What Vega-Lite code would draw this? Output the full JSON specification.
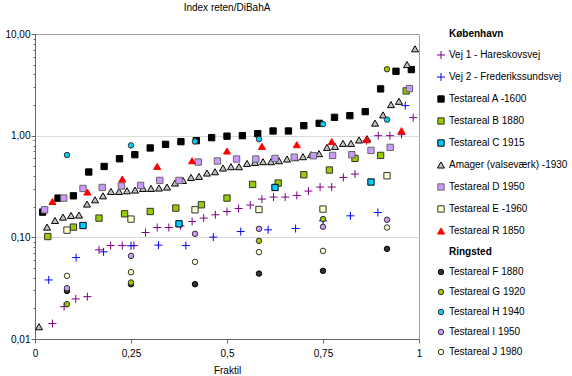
{
"$schema": "https://vega.github.io/schema/vega-lite/v6.json",
"width": 384, "height": 305,
"autosize": "none",
"padding": {"left": 35, "top": 34, "right": 153, "bottom": 37},
"title": {"text": "Index reten/DiBahA", "fontSize": 10, "fontWeight": "normal", "font": "Liberation Sans", "anchor": "middle", "baseline": "alphabetic", "offset": 15, "dy": 7, "color": "#000000"},
"config": {"view": {"stroke": "#a0a0a0"}, "font": "Liberation Sans"},
"datasets": {"pts": [
{"s":"Vej 1 - Hareskovsvej","x":0.0455,"y":0.0142},{"s":"Vej 1 - Hareskovsvej","x":0.0758,"y":0.0208},{"s":"Vej 1 - Hareskovsvej","x":0.1061,"y":0.0248},{"s":"Vej 1 - Hareskovsvej","x":0.1364,"y":0.0261},{"s":"Vej 1 - Hareskovsvej","x":0.1667,"y":0.0753},{"s":"Vej 1 - Hareskovsvej","x":0.197,"y":0.083},{"s":"Vej 1 - Hareskovsvej","x":0.2273,"y":0.083},{"s":"Vej 1 - Hareskovsvej","x":0.2576,"y":0.083},{"s":"Vej 1 - Hareskovsvej","x":0.2879,"y":0.1115},{"s":"Vej 1 - Hareskovsvej","x":0.3182,"y":0.1249},{"s":"Vej 1 - Hareskovsvej","x":0.3485,"y":0.1249},{"s":"Vej 1 - Hareskovsvej","x":0.3788,"y":0.1298},{"s":"Vej 1 - Hareskovsvej","x":0.4091,"y":0.1431},{"s":"Vej 1 - Hareskovsvej","x":0.4394,"y":0.1546},{"s":"Vej 1 - Hareskovsvej","x":0.4697,"y":0.1666},{"s":"Vej 1 - Hareskovsvej","x":0.5,"y":0.1796},{"s":"Vej 1 - Hareskovsvej","x":0.5303,"y":0.1922},{"s":"Vej 1 - Hareskovsvej","x":0.5606,"y":0.2076},{"s":"Vej 1 - Hareskovsvej","x":0.5909,"y":0.2378},{"s":"Vej 1 - Hareskovsvej","x":0.6212,"y":0.2489},{"s":"Vej 1 - Hareskovsvej","x":0.6515,"y":0.2489},{"s":"Vej 1 - Hareskovsvej","x":0.6818,"y":0.2582},{"s":"Vej 1 - Hareskovsvej","x":0.7121,"y":0.2851},{"s":"Vej 1 - Hareskovsvej","x":0.7424,"y":0.3123},{"s":"Vej 1 - Hareskovsvej","x":0.7727,"y":0.3123},{"s":"Vej 1 - Hareskovsvej","x":0.803,"y":0.3884},{"s":"Vej 1 - Hareskovsvej","x":0.8333,"y":0.4194},{"s":"Vej 1 - Hareskovsvej","x":0.8636,"y":0.893},{"s":"Vej 1 - Hareskovsvej","x":0.8939,"y":1.0},{"s":"Vej 1 - Hareskovsvej","x":0.9242,"y":1.0},{"s":"Vej 1 - Hareskovsvej","x":0.9545,"y":1.023},{"s":"Vej 1 - Hareskovsvej","x":0.9848,"y":1.504},
{"s":"Vej 2 - Frederikssundsvej","x":0.0357,"y":0.0381},{"s":"Vej 2 - Frederikssundsvej","x":0.1071,"y":0.0632},{"s":"Vej 2 - Frederikssundsvej","x":0.1786,"y":0.072},{"s":"Vej 2 - Frederikssundsvej","x":0.25,"y":0.0825},{"s":"Vej 2 - Frederikssundsvej","x":0.3214,"y":0.0838},{"s":"Vej 2 - Frederikssundsvej","x":0.3929,"y":0.083},{"s":"Vej 2 - Frederikssundsvej","x":0.4643,"y":0.1005},{"s":"Vej 2 - Frederikssundsvej","x":0.5357,"y":0.114},{"s":"Vej 2 - Frederikssundsvej","x":0.6071,"y":0.1185},{"s":"Vej 2 - Frederikssundsvej","x":0.6786,"y":0.1221},{"s":"Vej 2 - Frederikssundsvej","x":0.75,"y":0.1454},{"s":"Vej 2 - Frederikssundsvej","x":0.8214,"y":0.1628},{"s":"Vej 2 - Frederikssundsvej","x":0.8929,"y":0.1755},{"s":"Vej 2 - Frederikssundsvej","x":0.9643,"y":1.975},
{"s":"Testareal A -1600","x":0.02,"y":0.177},{"s":"Testareal A -1600","x":0.06,"y":0.243},{"s":"Testareal A -1600","x":0.1,"y":0.256},{"s":"Testareal A -1600","x":0.14,"y":0.439},{"s":"Testareal A -1600","x":0.18,"y":0.498},{"s":"Testareal A -1600","x":0.22,"y":0.593},{"s":"Testareal A -1600","x":0.26,"y":0.65},{"s":"Testareal A -1600","x":0.3,"y":0.757},{"s":"Testareal A -1600","x":0.34,"y":0.821},{"s":"Testareal A -1600","x":0.38,"y":0.873},{"s":"Testareal A -1600","x":0.42,"y":0.893},{"s":"Testareal A -1600","x":0.46,"y":0.956},{"s":"Testareal A -1600","x":0.5,"y":0.989},{"s":"Testareal A -1600","x":0.54,"y":1.0},{"s":"Testareal A -1600","x":0.58,"y":1.046},{"s":"Testareal A -1600","x":0.62,"y":1.112},{"s":"Testareal A -1600","x":0.66,"y":1.112},{"s":"Testareal A -1600","x":0.7,"y":1.254},{"s":"Testareal A -1600","x":0.74,"y":1.322},{"s":"Testareal A -1600","x":0.78,"y":1.514},{"s":"Testareal A -1600","x":0.82,"y":1.574},{"s":"Testareal A -1600","x":0.86,"y":1.724},{"s":"Testareal A -1600","x":0.9,"y":2.885},{"s":"Testareal A -1600","x":0.94,"y":4.3},{"s":"Testareal A -1600","x":0.98,"y":4.47},
{"s":"Testareal B 1880","x":0.0333,"y":0.1018},{"s":"Testareal B 1880","x":0.1,"y":0.126},{"s":"Testareal B 1880","x":0.1667,"y":0.1546},{"s":"Testareal B 1880","x":0.2333,"y":0.1704},{"s":"Testareal B 1880","x":0.3,"y":0.1796},{"s":"Testareal B 1880","x":0.3667,"y":0.194},{"s":"Testareal B 1880","x":0.4333,"y":0.209},{"s":"Testareal B 1880","x":0.5,"y":0.2433},{"s":"Testareal B 1880","x":0.5667,"y":0.3314},{"s":"Testareal B 1880","x":0.6333,"y":0.342},{"s":"Testareal B 1880","x":0.7,"y":0.4127},{"s":"Testareal B 1880","x":0.7667,"y":0.4592},{"s":"Testareal B 1880","x":0.8333,"y":0.5975},{"s":"Testareal B 1880","x":0.9,"y":0.6396},{"s":"Testareal B 1880","x":0.9667,"y":2.756},
{"s":"Testareal C 1915","x":0.125,"y":0.1307},{"s":"Testareal C 1915","x":0.375,"y":0.1358},{"s":"Testareal C 1915","x":0.625,"y":0.3095},{"s":"Testareal C 1915","x":0.875,"y":0.3499},
{"s":"Amager (valseværk) -1930","x":0.0104,"y":0.0132},{"s":"Amager (valseværk) -1930","x":0.0313,"y":0.126},{"s":"Amager (valseværk) -1930","x":0.0521,"y":0.1464},{"s":"Amager (valseværk) -1930","x":0.0729,"y":0.158},{"s":"Amager (valseværk) -1930","x":0.0938,"y":0.164},{"s":"Amager (valseværk) -1930","x":0.1146,"y":0.1655},{"s":"Amager (valseværk) -1930","x":0.1354,"y":0.2124},{"s":"Amager (valseværk) -1930","x":0.1563,"y":0.234},{"s":"Amager (valseværk) -1930","x":0.1771,"y":0.256},{"s":"Amager (valseværk) -1930","x":0.1979,"y":0.2827},{"s":"Amager (valseværk) -1930","x":0.2188,"y":0.2827},{"s":"Amager (valseværk) -1930","x":0.2396,"y":0.287},{"s":"Amager (valseværk) -1930","x":0.2604,"y":0.2917},{"s":"Amager (valseværk) -1930","x":0.2813,"y":0.3027},{"s":"Amager (valseværk) -1930","x":0.3021,"y":0.3027},{"s":"Amager (valseværk) -1930","x":0.3229,"y":0.3054},{"s":"Amager (valseværk) -1930","x":0.3438,"y":0.3123},{"s":"Amager (valseværk) -1930","x":0.3646,"y":0.342},{"s":"Amager (valseværk) -1930","x":0.3854,"y":0.3628},{"s":"Amager (valseværk) -1930","x":0.4063,"y":0.3884},{"s":"Amager (valseværk) -1930","x":0.4271,"y":0.3972},{"s":"Amager (valseværk) -1930","x":0.4479,"y":0.429},{"s":"Amager (valseværk) -1930","x":0.4688,"y":0.4418},{"s":"Amager (valseværk) -1930","x":0.4896,"y":0.4806},{"s":"Amager (valseværk) -1930","x":0.5104,"y":0.495},{"s":"Amager (valseværk) -1930","x":0.5313,"y":0.495},{"s":"Amager (valseværk) -1930","x":0.5521,"y":0.5334},{"s":"Amager (valseværk) -1930","x":0.5729,"y":0.5457},{"s":"Amager (valseværk) -1930","x":0.5938,"y":0.5544},{"s":"Amager (valseværk) -1930","x":0.6146,"y":0.5544},{"s":"Amager (valseværk) -1930","x":0.6354,"y":0.567},{"s":"Amager (valseværk) -1930","x":0.6563,"y":0.5893},{"s":"Amager (valseværk) -1930","x":0.6771,"y":0.607},{"s":"Amager (valseværk) -1930","x":0.6979,"y":0.621},{"s":"Amager (valseværk) -1930","x":0.7188,"y":0.65},{"s":"Amager (valseværk) -1930","x":0.7396,"y":0.665},{"s":"Amager (valseværk) -1930","x":0.7604,"y":0.767},{"s":"Amager (valseværk) -1930","x":0.7813,"y":0.7846},{"s":"Amager (valseværk) -1930","x":0.8021,"y":0.8396},{"s":"Amager (valseværk) -1930","x":0.8229,"y":0.8396},{"s":"Amager (valseværk) -1930","x":0.8438,"y":0.907},{"s":"Amager (valseværk) -1930","x":0.8646,"y":0.934},{"s":"Amager (valseværk) -1930","x":0.8854,"y":1.328},{"s":"Amager (valseværk) -1930","x":0.9063,"y":1.6},{"s":"Amager (valseværk) -1930","x":0.9271,"y":2.02},{"s":"Amager (valseværk) -1930","x":0.9479,"y":2.178},{"s":"Amager (valseværk) -1930","x":0.9688,"y":5.006},{"s":"Amager (valseværk) -1930","x":0.9896,"y":7.15},
{"s":"Testareal D 1950","x":0.025,"y":0.1866},{"s":"Testareal D 1950","x":0.075,"y":0.2433},{"s":"Testareal D 1950","x":0.125,"y":0.3027},{"s":"Testareal D 1950","x":0.175,"y":0.3095},{"s":"Testareal D 1950","x":0.225,"y":0.3195},{"s":"Testareal D 1950","x":0.275,"y":0.3239},{"s":"Testareal D 1950","x":0.325,"y":0.3628},{"s":"Testareal D 1950","x":0.375,"y":0.3628},{"s":"Testareal D 1950","x":0.425,"y":0.5507},{"s":"Testareal D 1950","x":0.475,"y":0.5633},{"s":"Testareal D 1950","x":0.525,"y":0.5893},{"s":"Testareal D 1950","x":0.575,"y":0.5893},{"s":"Testareal D 1950","x":0.625,"y":0.5975},{"s":"Testareal D 1950","x":0.675,"y":0.614},{"s":"Testareal D 1950","x":0.725,"y":0.6353},{"s":"Testareal D 1950","x":0.775,"y":0.6396},{"s":"Testareal D 1950","x":0.825,"y":0.65},{"s":"Testareal D 1950","x":0.875,"y":0.7163},{"s":"Testareal D 1950","x":0.925,"y":0.767},{"s":"Testareal D 1950","x":0.975,"y":2.904},
{"s":"Testareal E -1960","x":0.0833,"y":0.1177},{"s":"Testareal E -1960","x":0.25,"y":0.1511},{"s":"Testareal E -1960","x":0.4167,"y":0.1866},{"s":"Testareal E -1960","x":0.5833,"y":0.1878},{"s":"Testareal E -1960","x":0.75,"y":0.1896},{"s":"Testareal E -1960","x":0.9167,"y":0.4036},
{"s":"Testareal R 1850","x":0.0455,"y":0.2253},{"s":"Testareal R 1850","x":0.1364,"y":0.2788},{"s":"Testareal R 1850","x":0.2273,"y":0.3745},{"s":"Testareal R 1850","x":0.3182,"y":0.4983},{"s":"Testareal R 1850","x":0.4091,"y":0.567},{"s":"Testareal R 1850","x":0.5,"y":0.7066},{"s":"Testareal R 1850","x":0.5909,"y":0.7846},{"s":"Testareal R 1850","x":0.6818,"y":0.8153},{"s":"Testareal R 1850","x":0.7727,"y":0.873},{"s":"Testareal R 1850","x":0.8636,"y":0.9133},{"s":"Testareal R 1850","x":0.9545,"y":1.12},
{"s":"Testareal F 1880","x":0.0833,"y":0.0297},{"s":"Testareal F 1880","x":0.25,"y":0.0346},{"s":"Testareal F 1880","x":0.4167,"y":0.0346},{"s":"Testareal F 1880","x":0.5833,"y":0.044},{"s":"Testareal F 1880","x":0.75,"y":0.0468},{"s":"Testareal F 1880","x":0.9167,"y":0.077},
{"s":"Testareal G 1920","x":0.0833,"y":0.022},{"s":"Testareal G 1920","x":0.25,"y":0.0359},{"s":"Testareal G 1920","x":0.5833,"y":0.0924},{"s":"Testareal G 1920","x":0.75,"y":0.1511},{"s":"Testareal G 1920","x":0.9167,"y":4.5},
{"s":"Testareal H 1940","x":0.0833,"y":0.6455},{"s":"Testareal H 1940","x":0.25,"y":0.8025},{"s":"Testareal H 1940","x":0.4167,"y":0.879},{"s":"Testareal H 1940","x":0.5833,"y":0.924},{"s":"Testareal H 1940","x":0.75,"y":1.298},{"s":"Testareal H 1940","x":0.9167,"y":1.437},
{"s":"Testareal I 1950","x":0.0833,"y":0.0316},{"s":"Testareal I 1950","x":0.25,"y":0.0657},{"s":"Testareal I 1950","x":0.4167,"y":0.1083},{"s":"Testareal I 1950","x":0.5833,"y":0.1213},{"s":"Testareal I 1950","x":0.75,"y":0.1269},{"s":"Testareal I 1950","x":0.9167,"y":0.1488},
{"s":"Testareal J 1980","x":0.0833,"y":0.0418},{"s":"Testareal J 1980","x":0.25,"y":0.0454},{"s":"Testareal J 1980","x":0.4167,"y":0.0574},{"s":"Testareal J 1980","x":0.5833,"y":0.0715},{"s":"Testareal J 1980","x":0.75,"y":0.0736},{"s":"Testareal J 1980","x":0.9167,"y":0.1249}
]},
"data": {"name": "pts"},
"mark": {"type": "point", "filled": true, "strokeWidth": 1, "opacity": 1},
"encoding": {
  "x": {"field": "x", "type": "quantitative", "scale": {"domain": [0, 1], "nice": false},
    "axis": {"values": [0, 0.25, 0.5, 0.75, 1], "labelExpr": "replace('' + datum.value, '.', ',')", "title": "Fraktil", "titleFontSize": 10, "titleFontWeight": "normal", "titleColor": "#000000", "titleFont": "Liberation Sans", "titlePadding": 7, "tickSize": 4, "labelPadding": 5, "grid": false, "labelFlush": false, "labelOverlap": false, "labelFontSize": 10, "labelColor": "#000000", "labelFont": "Liberation Sans", "domainColor": "#666666", "tickColor": "#666666"}},
  "y": {"field": "y", "type": "quantitative", "scale": {"type": "log", "domain": [0.01, 10], "nice": false},
    "axis": {"values": [0.01,0.02,0.03,0.04,0.05,0.06,0.07,0.08,0.09,0.1,0.2,0.3,0.4,0.5,0.6,0.7,0.8,0.9,1,2,3,4,5,6,7,8,9,10],
      "labelExpr": "(datum.value === 0.01 || datum.value === 0.1 || datum.value === 1 || datum.value === 10) ? replace(format(datum.value, '.2f'), '.', ',') : ''",
      "title": null, "tickSize": {"condition": {"test": "datum.value === 0.01 || datum.value === 0.1 || datum.value === 1 || datum.value === 10", "value": 4}, "value": 2},
      "grid": true, "gridColor": "#d9d9d9", "gridOpacity": {"condition": {"test": "datum.value === 1 || datum.value === 0.1", "value": 1}, "value": 0},
      "labelPadding": 1, "labelOverlap": false, "labelBound": false, "labelFontSize": 10, "labelColor": "#000000", "labelFont": "Liberation Sans", "domainColor": "#666666", "tickColor": "#666666"}},
  "shape": {"field": "s", "type": "nominal",
    "scale": {"domain": ["København","Vej 1 - Hareskovsvej","Vej 2 - Frederikssundsvej","Testareal A -1600","Testareal B 1880","Testareal C 1915","Amager (valseværk) -1930","Testareal D 1950","Testareal E -1960","Testareal R 1850","Ringsted","Testareal F 1880","Testareal G 1920","Testareal H 1940","Testareal I 1950","Testareal J 1980"],
      "range": ["circle","M-1,0L1,0M0,-1L0,1","M-1,0L1,0M0,-1L0,1","square","square","square","triangle-up","square","square","triangle-up","circle","circle","circle","circle","circle","circle"]},
    "legend": {"title": null, "orient": "none", "legendX": 401, "legendY": -5, "padding": 0, "rowPadding": 10, "symbolSize": 25, "symbolStrokeWidth": 1, "labelFontSize": 10, "labelFont": "Liberation Sans", "labelColor": "#000000", "labelOffset": 3, "labelLimit": 200,
      "labelFontWeight": {"expr": "(datum.value === 'København' || datum.value === 'Ringsted') ? 'bold' : 'normal'"},
      "encode": {"symbols": {"update": {"size": {"value": 25}}}}}},
  "fill": {"field": "s", "type": "nominal",
    "scale": {"domain": ["København","Vej 1 - Hareskovsvej","Vej 2 - Frederikssundsvej","Testareal A -1600","Testareal B 1880","Testareal C 1915","Amager (valseværk) -1930","Testareal D 1950","Testareal E -1960","Testareal R 1850","Ringsted","Testareal F 1880","Testareal G 1920","Testareal H 1940","Testareal I 1950","Testareal J 1980"],
      "range": ["transparent","transparent","transparent","#000000","#99cc00","#00ccff","#c0c0c0","#cc99ff","#ffffcc","#ff0000","transparent","#333333","#99cc00","#00ccff","#cc99ff","#ffffcc"]}},
  "stroke": {"field": "s", "type": "nominal",
    "scale": {"domain": ["København","Vej 1 - Hareskovsvej","Vej 2 - Frederikssundsvej","Testareal A -1600","Testareal B 1880","Testareal C 1915","Amager (valseværk) -1930","Testareal D 1950","Testareal E -1960","Testareal R 1850","Ringsted","Testareal F 1880","Testareal G 1920","Testareal H 1940","Testareal I 1950","Testareal J 1980"],
      "range": ["transparent","#800080","#0000ff","#000000","#333333","#000000","#000000","#666666","#333333","#ff0000","transparent","#000000","#333333","#333333","#333333","#333333"]}},
  "size": {"field": "s", "type": "nominal",
    "scale": {"type": "ordinal", "domain": ["København","Vej 1 - Hareskovsvej","Vej 2 - Frederikssundsvej","Testareal A -1600","Testareal B 1880","Testareal C 1915","Amager (valseværk) -1930","Testareal D 1950","Testareal E -1960","Testareal R 1850","Ringsted","Testareal F 1880","Testareal G 1920","Testareal H 1940","Testareal I 1950","Testareal J 1980"],
      "range": [1,64,64,40,40,40,49,40,40,49,1,30,30,30,30,30]}}
}
}
